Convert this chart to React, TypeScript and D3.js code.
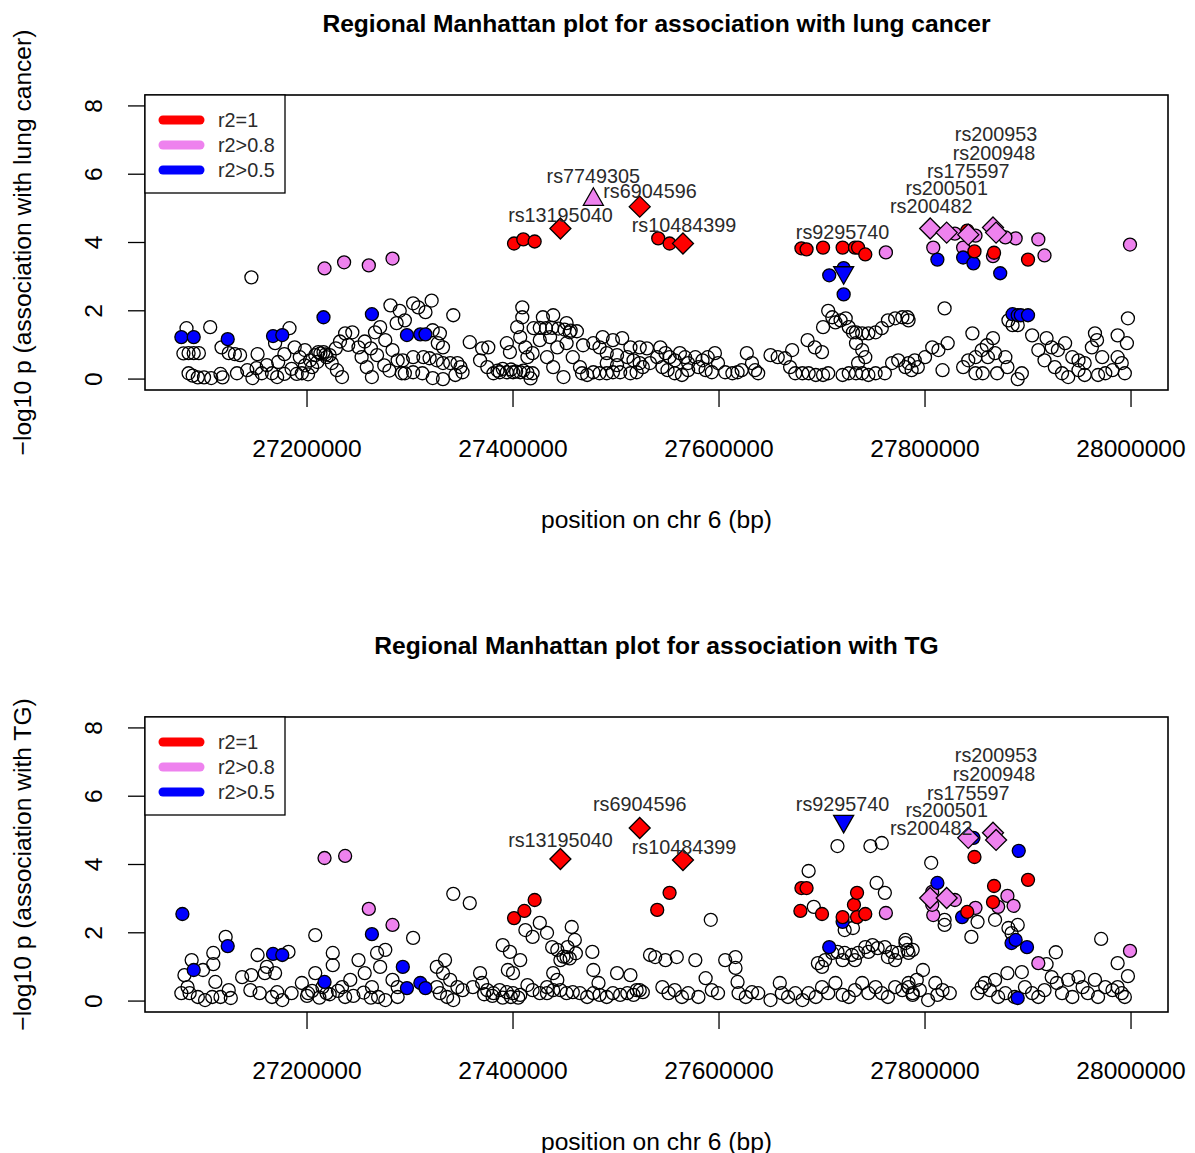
import React from "react";
import * as d3 from "d3";

// positions are kb on chr 6, values are -log10 p

const lungOther: [number, number][] = [
  [27080,0.75],[27085,0.76],[27090,0.76],[27095,0.76],[27085,0.17],[27089,0.1],[27094,0.05],[27100,0.05],[27107,0.03],[27116,0.15],[27118,0.05],[27083,1.49],[27106,1.52],[27117,0.93],[27124,0.76],[27130,0.73],[27135,0.7],[27132,0.17],[27142,0.26],[27147,0.03],[27152,0.73],[27151,0.32],[27156,0.17],[27161,0.41],[27166,0.17],[27171,0.06],[27178,0.15],[27169,1.05],[27178,0.73],[27183,1.49],[27188,0.93],[27193,0.64],[27198,0.85],[27146,2.98],
  [27195,0.17],[27201,0.14],[27205,0.35],[27210,0.5],[27211,0.79],[27216,0.79],[27219,0.64],[27224,0.47],[27229,0.26],[27234,0.06],[27237,1.34],[27244,1.37],[27250,0.93],[27253,0.64],[27258,0.35],[27263,0.06],[27266,1.37],[27271,1.52],[27276,1.14],[27281,2.16],[27283,0.85],[27287,1.64],[27288,0.55],[27292,0.17],[27208,0.7],[27213,0.75],[27218,0.72],[27222,0.7],[27172,0.5],[27185,0.3],[27190,0.15],[27198,0.4],[27203,0.55],[27240,1.0],[27256,1.1],[27262,0.9],[27268,0.7],[27275,0.4],[27280,0.25],[27228,0.9],[27232,1.1],
  [27290,2.0],[27295,1.72],[27293,0.55],[27295,0.17],[27303,2.22],[27308,2.1],[27315,1.96],[27321,2.3],[27342,1.87],[27322,1.43],[27329,1.34],[27327,1.05],[27332,0.93],[27303,0.64],[27313,0.64],[27319,0.61],[27326,0.55],[27332,0.47],[27339,0.47],[27346,0.47],[27349,0.35],[27303,0.2],[27312,0.17],[27322,0.03],[27332,0.0],[27344,0.12],[27351,0.2],[27358,1.08],[27370,0.9],[27376,0.93],[27368,0.55],[27375,0.35],[27381,0.17],[27387,0.2],[27394,0.2],[27400,0.2],[27407,0.2],[27394,1.05],[27397,0.79],[27385,0.25],[27390,0.3],[27398,0.28],[27403,0.22],[27410,0.25],[27414,0.18],[27409,2.1],[27409,1.81],[27404,1.52],[27407,1.23],[27412,0.93],[27414,0.64],[27419,0.76],[27419,0.17],[27417,0.02],[27420,1.49],[27426,1.5],[27432,1.49],[27438,1.5],[27444,1.48],[27450,1.45],[27456,1.42],[27462,1.4],[27429,1.81],[27439,1.87],[27452,1.64],[27455,1.37],[27426,1.14],[27436,1.23],[27443,0.93],[27433,0.64],[27439,0.35],[27449,0.06],[27452,1.05],[27458,0.64],[27465,0.35],[27468,0.99],[27478,1.05],[27484,0.93],[27467,0.17],[27472,0.12],[27478,0.2],[27484,0.17],[27491,0.17],[27497,0.2],[27504,0.2],[27514,0.17],[27520,0.2],[27526,0.35],[27533,0.47],[27540,0.64],[27487,1.23],[27497,1.14],[27506,1.2],[27514,0.93],[27523,0.93],[27530,0.9],[27491,0.76],[27501,0.7],[27511,0.64],[27517,0.55],[27523,0.47],[27491,0.47],[27501,0.41],
  [27543,0.93],[27548,0.76],[27552,0.64],[27557,0.55],[27562,0.76],[27567,0.64],[27570,0.47],[27545,0.35],[27550,0.26],[27557,0.17],[27564,0.12],[27570,0.26],[27577,0.64],[27584,0.55],[27589,0.64],[27596,0.76],[27599,0.47],[27580,0.35],[27587,0.26],[27593,0.2],[27606,0.2],[27613,0.17],[27618,0.2],[27622,0.26],[27627,0.76],[27632,0.47],[27635,0.26],[27638,0.17],[27650,0.7],[27657,0.64],[27664,0.61],[27671,0.85],[27669,0.35],[27674,0.17],[27681,0.17],[27687,0.17],[27694,0.12],[27701,0.12],[27706,0.17],[27686,1.14],[27693,0.93],[27700,0.79],[27701,1.52],[27706,2.0],[27710,1.81],[27713,1.66],[27718,1.72],[27723,1.78],[27726,1.52],[27730,1.37],[27733,1.37],[27739,1.34],[27745,1.34],[27752,1.37],[27758,1.49],[27764,1.72],[27771,1.78],[27778,1.81],[27783,1.81],[27733,1.05],[27739,0.85],[27742,0.64],[27735,0.47],[27733,0.17],[27739,0.17],[27745,0.12],[27752,0.17],[27761,0.17],[27768,0.47],[27774,0.55],[27781,0.35],[27787,0.26],[27720,0.12],[27726,0.17],
  [27784,1.72],[27819,2.07],[27846,1.34],[27866,1.2],[27860,0.99],[27855,0.85],[27849,0.64],[27842,0.55],[27822,1.05],[27813,0.85],[27807,0.93],[27800,0.64],[27790,0.55],[27784,0.47],[27793,0.35],[27817,0.26],[27837,0.35],[27849,0.17],[27856,0.17],[27870,0.17],[27878,0.64],[27880,0.35],[27861,0.64],[27868,0.76],[27881,1.72],[27885,1.58],[27890,1.58],[27904,1.28],[27910,0.85],[27918,1.2],[27923,0.93],[27929,0.85],[27936,1.05],[27943,0.64],[27949,0.55],[27955,0.47],[27962,0.93],[27967,1.14],[27965,1.34],[27972,0.64],[27916,0.55],[27926,0.35],[27933,0.17],[27939,0.06],[27894,0.17],[27890,0.0],[27987,1.28],[27996,1.05],[27997,1.78],[27987,0.64],[27991,0.47],[27994,0.17],[27982,0.26],[27975,0.17],[27968,0.12],[27955,0.12],[27949,0.26],
];
const lungR2One: [number, number][] = [
  [27401,3.97],[27410,4.09],[27421,4.03],[27541,4.12],[27552,3.97],[27680,3.83],[27685,3.8],[27701,3.85],[27720,3.85],[27732,3.85],[27735,3.85],[27742,3.65],[27841,4.35],[27848,3.74],[27867,3.7],[27900,3.5],
];
const lungR2High: [number, number][] = [
  [27217,3.24],[27236,3.42],[27260,3.33],[27283,3.53],[27762,3.71],[27808,3.85],[27837,3.85],[27849,4.2],[27888,4.12],[27910,4.09],[27916,3.62],[27999,3.94],[27829,4.26],[27878,4.15],[27866,3.6],
];
const lungR2Mid: [number, number][] = [
  [27078,1.23],[27090,1.23],[27123,1.17],[27167,1.26],[27176,1.29],[27216,1.81],[27263,1.9],[27297,1.29],[27310,1.31],[27315,1.31],[27707,3.04],[27721,3.25],[27721,2.48],[27812,3.5],[27837,3.56],[27847,3.39],[27873,3.1],[27885,1.9],[27890,1.87],[27893,1.87],[27900,1.87],
];

const tgOther: [number, number][] = [
  [27088,1.2],[27081,0.76],[27099,0.91],[27084,0.41],[27078,0.23],[27086,0.23],[27094,0.12],[27101,0.03],[27108,0.12],[27111,0.56],[27109,1.08],[27109,1.41],[27121,1.88],[27116,0.12],[27124,0.32],[27126,0.09],
  [27137,0.7],[27146,0.76],[27145,0.32],[27152,1.35],[27154,0.23],[27161,1.0],[27159,0.82],[27169,0.82],[27171,0.26],[27182,1.44],[27166,0.12],[27176,0.03],[27208,1.93],
  [27185,0.23],[27195,0.53],[27201,0.23],[27208,0.82],[27215,0.41],[27219,0.23],[27225,1.41],[27225,1.05],[27234,0.41],[27237,0.12],[27242,0.62],[27250,1.2],[27256,0.82],[27263,0.41],[27268,1.41],[27271,1.0],[27276,1.5],[27283,0.62],[27269,0.12],[27276,0.03],[27288,0.41],[27288,0.12],[27200,0.15],[27205,0.3],[27212,0.1],[27222,0.2],[27230,0.3],[27245,0.15],[27255,0.25],[27262,0.1],
  [27303,1.85],[27342,3.14],[27358,2.87],
  [27326,1.0],[27334,1.2],[27332,0.82],[27339,0.62],[27346,0.41],[27326,0.41],[27329,0.23],[27336,0.12],[27342,0.03],[27351,0.32],[27361,0.41],[27368,0.82],[27370,0.53],[27375,0.32],[27381,0.23],[27387,0.32],[27394,0.26],[27400,0.23],[27407,0.18],[27414,0.47],[27419,0.32],[27426,0.23],[27433,0.23],[27439,0.32],[27380,0.15],[27390,0.1],[27398,0.12],[27405,0.1],[27372,0.2],
  [27390,1.64],[27397,1.44],[27395,0.91],[27400,0.82],[27407,1.2],[27412,2.08],[27419,1.88],[27426,2.29],[27433,2.0],[27438,1.58],[27443,1.5],[27446,1.2],[27452,1.29],[27453,1.58],[27457,2.17],[27460,1.79],[27439,0.82],[27443,0.62],[27433,0.41],[27446,0.32],[27452,0.23],[27458,0.26],[27477,1.44],[27478,0.91],[27483,0.53],[27449,1.3],[27455,1.25],[27461,1.4],
  [27465,0.23],[27472,0.12],[27478,0.23],[27484,0.18],[27491,0.12],[27497,0.23],[27504,0.18],[27511,0.23],[27517,0.18],[27523,0.32],[27501,0.82],[27514,0.76],[27520,0.32],[27526,0.26],[27533,1.35],
  [27538,1.29],[27548,1.2],[27559,1.29],[27545,0.41],[27551,0.23],[27557,0.32],[27564,0.12],[27570,0.23],[27577,1.2],[27580,0.12],[27587,0.67],[27593,0.32],[27599,0.23],[27606,1.2],[27616,1.29],[27616,0.97],[27618,0.56],[27619,0.23],[27626,0.12],[27632,0.26],[27638,0.23],[27592,2.38],
  [27650,0.03],[27659,0.53],[27661,0.23],[27667,0.12],[27674,0.23],[27681,0.03],[27687,0.23],[27694,0.12],[27700,0.41],[27706,0.23],[27713,0.53],[27720,0.18],[27726,0.12],[27732,0.32],[27739,0.53],[27745,0.23],[27752,0.41],[27758,0.23],[27764,0.12],[27771,0.41],[27778,0.32],[27784,0.53],[27788,0.18],
  [27696,1.11],[27703,1.2],[27710,1.41],[27715,1.44],[27722,1.41],[27729,1.35],[27735,1.41],[27742,1.58],[27749,1.64],[27754,1.55],[27761,1.58],[27768,1.44],[27774,1.41],[27781,1.7],[27788,1.5],[27700,1.0],[27720,1.2],[27732,1.2],[27745,1.44],[27764,1.29],[27771,1.2],[27722,2.08],[27730,2.14],
  [27715,4.54],[27747,4.54],[27758,4.63],[27687,3.81],[27753,3.46],[27761,3.17],[27692,2.76],
  [27806,4.05],[27819,2.38],[27819,2.23],[27851,2.32],[27868,2.38],[27845,1.88],[27881,2.14],[27890,2.23],[27884,1.99],[27918,1.08],[27927,1.43],[27971,1.82],[27987,1.11],[27997,0.73],
  [27781,1.79],[27783,1.5],[27784,1.41],[27798,0.91],[27792,0.62],[27784,0.41],[27788,0.23],[27795,0.32],[27803,0.03],[27810,0.53],[27817,0.32],[27824,0.23],[27812,0.18],
  [27851,0.23],[27855,0.41],[27858,0.53],[27863,0.32],[27868,0.62],[27871,0.12],[27880,0.82],[27878,0.23],[27887,0.12],[27894,0.85],[27897,0.41],[27904,0.23],[27910,0.12],[27916,0.32],[27923,0.7],[27928,0.53],[27933,0.23],[27939,0.62],[27943,0.12],[27949,0.7],[27953,0.41],[27958,0.23],[27965,0.62],[27968,0.12],[27975,0.41],[27982,0.32],[27987,0.41],[27994,0.12],[27991,0.23],
];
const tgR2One: [number, number][] = [
  [27401,2.43],[27411,2.64],[27421,2.96],[27540,2.67],[27552,3.17],[27680,3.31],[27685,3.31],[27679,2.64],[27700,2.55],[27720,2.46],[27731,2.82],[27734,3.17],[27734,2.46],[27742,2.55],[27848,4.22],[27900,3.55],[27867,3.37],[27866,2.9],[27841,2.61],
];
const tgR2High: [number, number][] = [
  [27217,4.19],[27237,4.25],[27260,2.7],[27283,2.23],[27762,2.58],[27807,3.2],[27808,2.52],[27829,2.96],[27849,2.73],[27871,2.76],[27880,3.08],[27886,2.79],[27807,2.82],[27910,1.11],[27999,1.47],
];
const tgR2Mid: [number, number][] = [
  [27079,2.55],[27090,0.91],[27123,1.61],[27167,1.38],[27176,1.35],[27217,0.56],[27263,1.96],[27293,1.0],[27297,0.38],[27310,0.53],[27315,0.38],[27707,1.58],[27720,2.32],[27847,4.78],[27891,4.4],[27812,3.46],[27836,2.46],[27884,1.7],[27888,1.79],[27899,1.58],[27890,0.09],
];

// named SNPs
const snpNames = ["rs13195040","rs7749305","rs6904596","rs10484399","rs9295740","rs200482","rs200501","rs175597","rs200948","rs200953"];
const snpKb = [27446,27478,27523,27565,27721,27805,27821,27842,27866,27869];
const snpShape = ["diamond","up","diamond","diamond","down","diamond","diamond","diamond","diamond","diamond"];
const snpLevel = ["r2=1","r2>0.8","r2=1","r2=1","r2>0.5","r2>0.8","r2>0.8","r2>0.8","r2>0.8","r2>0.8"];
const snpLungP = [4.41,5.28,5.05,3.97,3.1,4.41,4.29,4.23,4.44,4.29];
const snpTgP: (number | null)[] = [4.16,null,5.07,4.13,5.25,3.02,3.02,4.78,4.93,4.72];
const lungLabelKb = [27446,27478,27533,27566,27720,27806,27821,27842,27867,27869];
const lungLabelP = [4.82,5.96,5.52,4.5,4.32,5.08,5.6,6.1,6.63,7.18];
const tgLabelKb = [27446,27478,27523,27566,27720,27806,27821,27842,27867,27869];
const tgLabelP: (number | null)[] = [4.72,null,5.78,4.52,5.78,5.07,5.6,6.1,6.66,7.21];

const legendLevels = ["r2=1","r2>0.8","r2>0.5"];
const legendColors = ["#ff0000","#ee82ee","#0000ff"];
const xTicks = [27200000,27400000,27600000,27800000,28000000];
const yTicks = [0,2,4,6,8];

const FONT = "'Liberation Sans', Arial, sans-serif";
const AX = 24.6;
const LAB = 19.8;
const colorOf = (lvl: string) => legendColors[legendLevels.indexOf(lvl)];

function shapePath(shape: string) {
  if (shape === "diamond") return "M0,-10.5L10.5,0L0,10.5L-10.5,0Z";
  if (shape === "up") return "M0,-11L10,6.5L-10,6.5Z";
  return "M0,11L10,-6.5L-10,-6.5Z";
}

function Panel({ top, title, ylab, other, one, high, mid, snpP, labKb, labP }: any) {
  const left = 145, right = 1168, bottom = top + 295;
  const x = d3.scaleLinear().domain([27042700, 28035900]).range([left, right]);
  const y = d3.scaleLinear().domain([-0.32, 8.32]).range([bottom, top]);
  const X = (kb: number) => x(kb * 1000);
  const dots = (arr: [number, number][], fill: string, key: string) =>
    arr.map((d, i) => (
      <circle key={key + i} cx={X(d[0])} cy={y(d[1])} r={6.5} fill={fill} stroke="#000" strokeWidth={1.3} />
    ));
  const mid_ = (left + right) / 2;
  return (
    <g fontFamily={FONT}>
      <text x={mid_} y={top - 72} textAnchor="middle" dominantBaseline="central" fontWeight="bold" fontSize={AX}>{title}</text>
      <text transform={`translate(22,${(top + bottom) / 2}) rotate(-90)`} textAnchor="middle" dominantBaseline="central" fontSize={AX}>{ylab}</text>
      <text x={mid_} y={bottom + 129} textAnchor="middle" dominantBaseline="central" fontSize={AX}>position on chr 6 (bp)</text>
      {xTicks.map((t) => (
        <g key={t}>
          <line x1={x(t)} x2={x(t)} y1={bottom} y2={bottom + 17} stroke="#000" strokeWidth={1.3} />
          <text x={x(t)} y={bottom + 58} textAnchor="middle" dominantBaseline="central" fontSize={AX}>{t}</text>
        </g>
      ))}
      {yTicks.map((t) => (
        <g key={t}>
          <line x1={left} x2={left - 17} y1={y(t)} y2={y(t)} stroke="#000" strokeWidth={1.3} />
          <text transform={`translate(93,${y(t)}) rotate(-90)`} textAnchor="middle" dominantBaseline="central" fontSize={AX}>{t}</text>
        </g>
      ))}
      {dots(other, "none", "o")}
      {dots(high, "#ee82ee", "h")}
      {dots(mid, "#0000ff", "m")}
      {dots(one, "#ff0000", "r")}
      {snpNames.map((n, i) =>
        snpP[i] == null ? null : (
          <path key={n} d={shapePath(snpShape[i])} transform={`translate(${X(snpKb[i])},${y(snpP[i])})`} fill={colorOf(snpLevel[i])} stroke="#000" strokeWidth={1.3} />
        )
      )}
      {snpNames.map((n, i) =>
        labP[i] == null ? null : (
          <text key={"l" + n} x={X(labKb[i])} y={y(labP[i])} textAnchor="middle" dominantBaseline="central" fontSize={LAB} fill="#2a2a2a">{n}</text>
        )
      )}
      <rect x={left} y={top} width={right - left} height={bottom - top} fill="none" stroke="#000" strokeWidth={1.6} />
      <rect x={left} y={top} width={140} height={98} fill="#fff" stroke="#000" strokeWidth={1.3} />
      {legendLevels.map((l, i) => (
        <g key={l}>
          <line x1={163} x2={200} y1={top + 25 + i * 25} y2={top + 25 + i * 25} stroke={legendColors[i]} strokeWidth={9} strokeLinecap="round" />
          <text x={218} y={top + 25 + i * 25} dominantBaseline="central" fontSize={LAB} fill="#2a2a2a">{l}</text>
        </g>
      ))}
    </g>
  );
}

export default function App() {
  return (
    <div style={{ position: "absolute", left: 0, top: 0, background: "#fff" }}>
      <svg width={1195} height={1153}>
        <rect width={1195} height={1153} fill="#fff" />
        <Panel top={95} title="Regional Manhattan plot for association with lung cancer" ylab="−log10 p (association with lung cancer)"
          other={lungOther} one={lungR2One} high={lungR2High} mid={lungR2Mid} snpP={snpLungP} labKb={lungLabelKb} labP={lungLabelP} />
        <Panel top={717} title="Regional Manhattan plot for association with TG" ylab="−log10 p (association with TG)"
          other={tgOther} one={tgR2One} high={tgR2High} mid={tgR2Mid} snpP={snpTgP} labKb={tgLabelKb} labP={tgLabelP} />
      </svg>
    </div>
  );
}
